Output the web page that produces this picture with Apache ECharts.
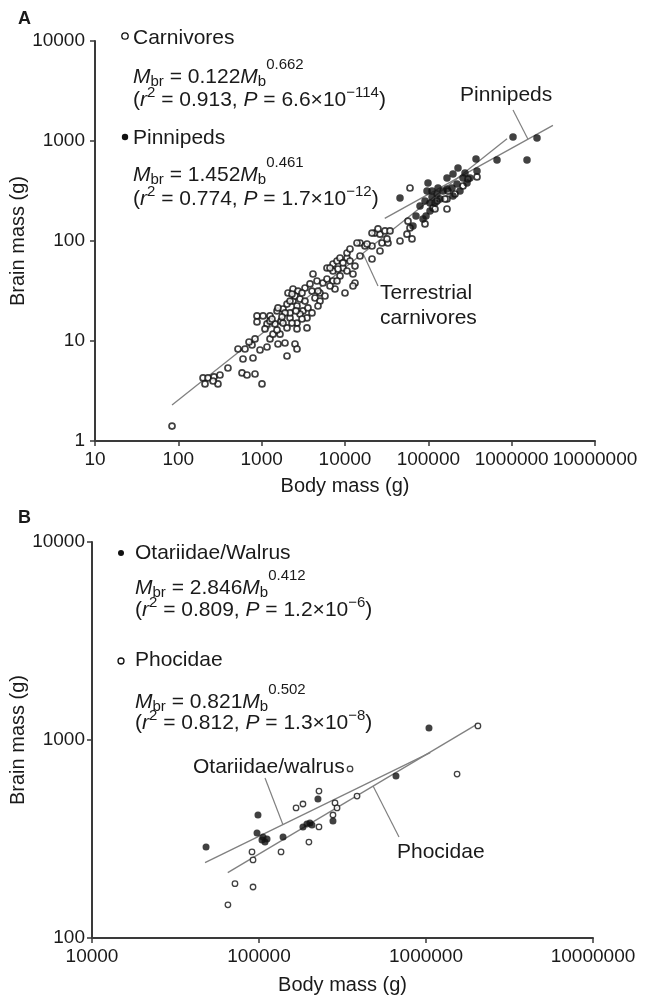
<!DOCTYPE html>
<html>
<head>
<meta charset="utf-8">
<script src="https://cdn.jsdelivr.net/npm/echarts@6/dist/echarts.min.js"></script>
<style>
  html, body { margin: 0; padding: 0; background: #fff; }
  #chart { width: 649px; height: 998px; }
</style>
</head>
<body>
<div id="chart"></div>
<script>
// Brain mass vs body mass in carnivores (A) and pinnipeds (B), log-log scales.

// ---- Panel A: carnivores (open) ----
const carnBody = [84, 198, 227, 268, 316, 209, 299, 261, 394, 520, 631, 766, 832, 705, 597, 787, 581, 667, 832, 1009,
  955, 1159, 1259, 1368, 1570, 1905, 2014, 1660, 1528, 879, 1038, 1259, 879, 1159, 1445, 1706, 2188, 2655, 3499, 2655,
  2014, 1528, 1803, 2014, 2377, 2655, 3133, 3499, 2884, 2188, 2070, 2377, 2729, 3311, 4018, 4365, 5012, 4130, 3802, 4613,
  5445, 6081, 7178, 2512, 2884, 3311, 2188, 6081, 7178, 8017, 8710, 10570, 11480, 9462, 10570, 12470, 13180, 10000, 12470, 8710,
  8017, 7178, 10570, 11480, 15140, 17380, 21090, 22910, 21090, 5012, 3597, 1803, 1570, 7586, 2312, 6607, 13930, 1905, 1259,
  26300, 30200, 34670, 27800, 32810, 26300, 18370, 45710, 55460, 60260, 63680, 57020, 91200, 60260, 113800, 127100, 167500,
  167500, 208900, 260600, 299200, 383700, 120200, 158500, 172200, 21090, 1096, 1330, 1754, 2312, 3048, 4018, 4742, 5754, 6607,
  8241, 9462, 13180, 15140, 4742, 3048, 2582, 24890, 31920, 2512, 2655];
const carnBrain = [1.41, 4.27, 4.27, 4.37, 4.57, 3.72, 3.72, 3.98, 5.37, 8.32, 8.32, 9.12, 10.5, 9.77, 6.61, 6.76, 4.79, 4.57, 4.68, 3.72,
  8.13, 8.71, 10.5, 11.7, 9.33, 9.55, 7.08, 11.7, 12.9, 17.8, 17.8, 17.8, 15.5, 14.8, 14.8, 15.8, 17.0, 15.1, 13.5, 13.2,
  13.5, 20.0, 20.9, 23.4, 25.1, 22.4, 20.0, 17.0, 18.6, 19.1, 30.2, 33.1, 31.6, 33.9, 31.6, 26.9, 25.1, 46.8, 37.2, 39.8,
  38.0, 41.7, 39.8, 28.2, 26.3, 25.1, 25.1, 53.7, 58.9, 63.1, 67.6, 67.6, 63.1, 53.7, 50.1, 46.8, 38.0, 30.2, 35.5, 44.7,
  39.8, 50.1, 75.9, 83.2, 95.5, 89.1, 89.1, 120, 66.1, 30.2, 21.4, 15.1, 21.4, 33.1, 29.5, 53.7, 95.5, 19.1, 15.8,
  117, 126, 126, 95.5, 95.5, 79.4, 93.3, 100, 117, 135, 105, 158, 148, 339, 214, 251, 209,
  263, 295, 355, 417, 437, 209, 263, 316, 120, 13.2, 16.6, 17.4, 15.1, 16.6, 19.1, 22.4, 28.2, 35.5,
  52.5, 60.3, 56.2, 70.8, 31.6, 30.2, 20.0, 132, 105, 9.33, 8.32];

// ---- Panel A: pinnipeds (filled) ----
const pinnBody = [45710, 71120, 93760, 65460, 99080, 96380, 110700, 127100, 91200, 104700, 138000, 167500, 167500, 197700,
  227000, 260600, 220800, 192300, 150000, 275400, 291100, 383700, 373300, 666800, 1038000, 1528000, 2014000, 130600,
  239900, 197700, 120200, 104700, 86300, 316200, 110700, 79430];
const pinnBrain = [269, 178, 178, 141, 380, 316, 316, 295, 251, 240, 263, 331, 427, 468,
  537, 427, 372, 339, 316, 479, 380, 501, 661, 646, 1096, 646, 1072, 339,
  316, 282, 240, 200, 166, 427, 275, 224];

// ---- Panel B: Otariidae/walrus (filled) and Phocidae (open) ----
const otarBody = [48190, 98600, 97300, 105700, 104200, 111700, 108600, 139300, 225400, 183300, 193600, 201800, 207600,
  277300, 661000, 1042000];
const otarBrain = [288, 418, 339, 324, 313, 316, 305, 324, 504, 364, 377, 381, 372, 390, 658, 1151];
const phocBody = [90800, 92100, 71800, 92100, 65150, 135500, 199000, 166700, 183300, 228600, 228600, 350800, 386400,
  285200, 293300, 277300, 1535000, 2046000];
const phocBrain = [272, 248, 188, 181, 147, 272, 305, 454, 475, 552, 364, 714, 521, 481, 454, 418, 673, 1178];

// Allometric fits  M_br = a * M_b^b  over the fitted body-mass range
const fitCarn = { a: 0.122, b: 0.662, from: 84, to: 880000 };
const fitPinn = { a: 1.452, b: 0.461, from: 30000, to: 3130000 };
const fitOtar = { a: 2.846, b: 0.412, from: 47500, to: 1060000 };
const fitPhoc = { a: 0.821, b: 0.502, from: 65000, to: 2050000 };

// Tick labels
const xTicksA = ['10', '100', '1000', '10000', '100000', '1000000', '10000000'];
const yTicksA = ['1', '10', '100', '1000', '10000'];
const xTicksB = ['10000', '100000', '1000000', '10000000'];
const yTicksB = ['100', '1000', '10000'];

const FF = '"Liberation Sans", Arial, Helvetica, sans-serif';
const INK = '#1a1a1a';
const AXIS = '#3a3a3a';
const FIT = '#808080';

const zip = (xs, ys) => xs.map((x, i) => [x, ys[i]]);
const fitAt = (f, x) => f.a * Math.pow(x, f.b);
const fitLine = f => [[f.from, fitAt(f, f.from)], [f.to, fitAt(f, f.to)]];
const tickFmt = (labels, minExp) => v => {
  const s = labels[Math.round(Math.log10(v)) - minExp];
  return s === undefined ? '' : s;
};

function mkX(grid, min, max, labels, minExp, nameGap) {
  return {
    type: 'log', logBase: 10, gridIndex: grid, min: min, max: max,
    name: 'Body mass (g)', nameLocation: 'middle', nameGap: nameGap,
    nameTextStyle: { fontFamily: FF, fontSize: 20, color: INK },
    axisLine: { show: true, onZero: false, lineStyle: { color: AXIS, width: 2 } },
    axisTick: { show: true, inside: false, length: 5, lineStyle: { color: AXIS, width: 1.5 } },
    axisLabel: { show: true, margin: 9, fontFamily: FF, fontSize: 19, color: INK,
      formatter: tickFmt(labels, minExp), showMinLabel: true, showMaxLabel: true },
    splitLine: { show: false }, minorTick: { show: false }
  };
}
function mkY(grid, min, max, labels, minExp, margin, nameGap) {
  return {
    type: 'log', logBase: 10, gridIndex: grid, min: min, max: max,
    name: 'Brain mass (g)', nameLocation: 'middle', nameGap: nameGap, nameMoveOverlap: false,
    nameTextStyle: { fontFamily: FF, fontSize: 20, color: INK },
    axisLine: { show: true, onZero: false, lineStyle: { color: AXIS, width: 2 } },
    axisTick: { show: true, inside: false, length: 5, lineStyle: { color: AXIS, width: 1.5 } },
    axisLabel: { show: true, margin: margin, fontFamily: FF, fontSize: 19, color: INK,
      formatter: tickFmt(labels, minExp), showMinLabel: true, showMaxLabel: true },
    splitLine: { show: false }, minorTick: { show: false }
  };
}
const fitSeries = (g, f) => ({
  type: 'line', xAxisIndex: g, yAxisIndex: g, data: fitLine(f), symbol: 'none', showSymbol: false,
  lineStyle: { color: FIT, width: 1.3 }, silent: true, z: 1
});
const openSeries = (g, xs, ys, size, bw) => ({
  type: 'scatter', xAxisIndex: g, yAxisIndex: g, data: zip(xs, ys), symbol: 'circle', symbolSize: size,
  itemStyle: { color: '#fff', borderColor: '#111', borderWidth: bw }, silent: true, z: 3
});
const filledSeries = (g, xs, ys, size) => ({
  type: 'scatter', xAxisIndex: g, yAxisIndex: g, data: zip(xs, ys), symbol: 'circle', symbolSize: size,
  itemStyle: { color: '#111' }, silent: true, z: 4
});

const chart = echarts.init(document.getElementById('chart'), null, { renderer: 'canvas' });
chart.setOption({
  animation: false,
  backgroundColor: '#fff',
  grid: [
    { left: 95, top: 41, width: 500, height: 400, containLabel: false, outerBoundsMode: 'none' },
    { left: 92, top: 542, width: 501, height: 396, containLabel: false, outerBoundsMode: 'none' }
  ],
  xAxis: [mkX(0, 10, 1e7, xTicksA, 1, 35), mkX(1, 1e4, 1e7, xTicksB, 4, 37)],
  yAxis: [mkY(0, 1, 1e4, yTicksA, 0, 10, 67), mkY(1, 100, 1e4, yTicksB, 2, 7, 64)],
  series: [
    fitSeries(0, fitCarn), fitSeries(0, fitPinn),
    openSeries(0, carnBody, carnBrain, 6, 1.7),
    filledSeries(0, pinnBody, pinnBrain, 7.5),
    fitSeries(1, fitOtar), fitSeries(1, fitPhoc),
    openSeries(1, phocBody, phocBrain, 5.5, 1.3),
    filledSeries(1, otarBody, otarBrain, 7)
  ]
});

// ---- annotations: legends, equations, leader lines ----
const RICH = {
  n: { font: '21px ' + FF, fill: INK },
  i: { font: 'italic 21px ' + FF, fill: INK },
  sub: { font: '15px ' + FF, fill: INK, padding: [10, 0, 0, 0] },
  supH: { font: '15px ' + FF, fill: INK, padding: [0, 0, 24, 0] },
  sup: { font: '15px ' + FF, fill: INK, padding: [0, 0, 15, 0] }
};
const rich = (x, y, text) => ({
  type: 'text', x: x, y: y, silent: true,
  style: { text: text, rich: RICH, fill: INK, font: '21px ' + FF,
    align: 'left', verticalAlign: 'middle', textAlign: 'left', textVerticalAlign: 'middle' }
});
const plain = (x, y, text, font) => ({
  type: 'text', x: x, y: y, silent: true,
  style: { text: text, fill: INK, font: font || ('21px ' + FF),
    align: 'left', verticalAlign: 'middle', textAlign: 'left', textVerticalAlign: 'middle' }
});
const dot = (cx, cy, r, open) => ({
  type: 'circle', silent: true, shape: { cx: cx, cy: cy, r: r },
  style: open ? { fill: '#fff', stroke: '#111', lineWidth: 1.3 } : { fill: '#111' }
});
const leader = (x1, y1, g, f, xOnFit) => {
  const p = chart.convertToPixel({ gridIndex: g }, [xOnFit, fitAt(f, xOnFit)]);
  return { type: 'line', silent: true, shape: { x1: x1, y1: y1, x2: p[0], y2: p[1] },
    style: { stroke: FIT, lineWidth: 1.2 } };
};

const eq = (a, b) => '{i|M}{sub|br}{n| = ' + a + '}{i|M}{sub|b}{supH|' + b + '}';
const stat = (r2, p, e) => '{n|(}{i|r}{sup|2}{n| = ' + r2 + ', }{i|P}{n| = ' + p + '×10}{sup|−' + e + '}{n|)}';

chart.setOption({
  graphic: [
    plain(18, 19, 'A', 'bold 18px ' + FF),
    dot(125, 36, 3.2, true),
    plain(133, 38, 'Carnivores'),
    rich(133, 77, eq('0.122', '0.662')),
    rich(133, 100, stat('0.913', '6.6', '114')),
    dot(125, 137, 3.2, false),
    plain(133, 138, 'Pinnipeds'),
    rich(133, 175, eq('1.452', '0.461')),
    rich(133, 199, stat('0.774', '1.7', '12')),
    plain(460, 95, 'Pinnipeds'),
    leader(513, 110, 0, fitPinn, 1.57e6),
    plain(380, 293, 'Terrestrial'),
    plain(380, 318, 'carnivores'),
    leader(378, 286, 0, fitCarn, 16400),

    plain(18, 518, 'B', 'bold 18px ' + FF),
    dot(121, 553, 3, false),
    plain(135, 553, 'Otariidae/Walrus'),
    rich(135, 588, eq('2.846', '0.412')),
    rich(135, 610, stat('0.809', '1.2', '6')),
    dot(121, 661, 3, true),
    plain(135, 660, 'Phocidae'),
    rich(135, 702, eq('0.821', '0.502')),
    rich(135, 723, stat('0.812', '1.3', '8')),
    plain(193, 767, 'Otariidae/walrus'),
    leader(265, 778, 1, fitOtar, 139000),
    plain(397, 852, 'Phocidae'),
    leader(399, 837, 1, fitPhoc, 482000)
  ]
});
</script>
</body>
</html>
